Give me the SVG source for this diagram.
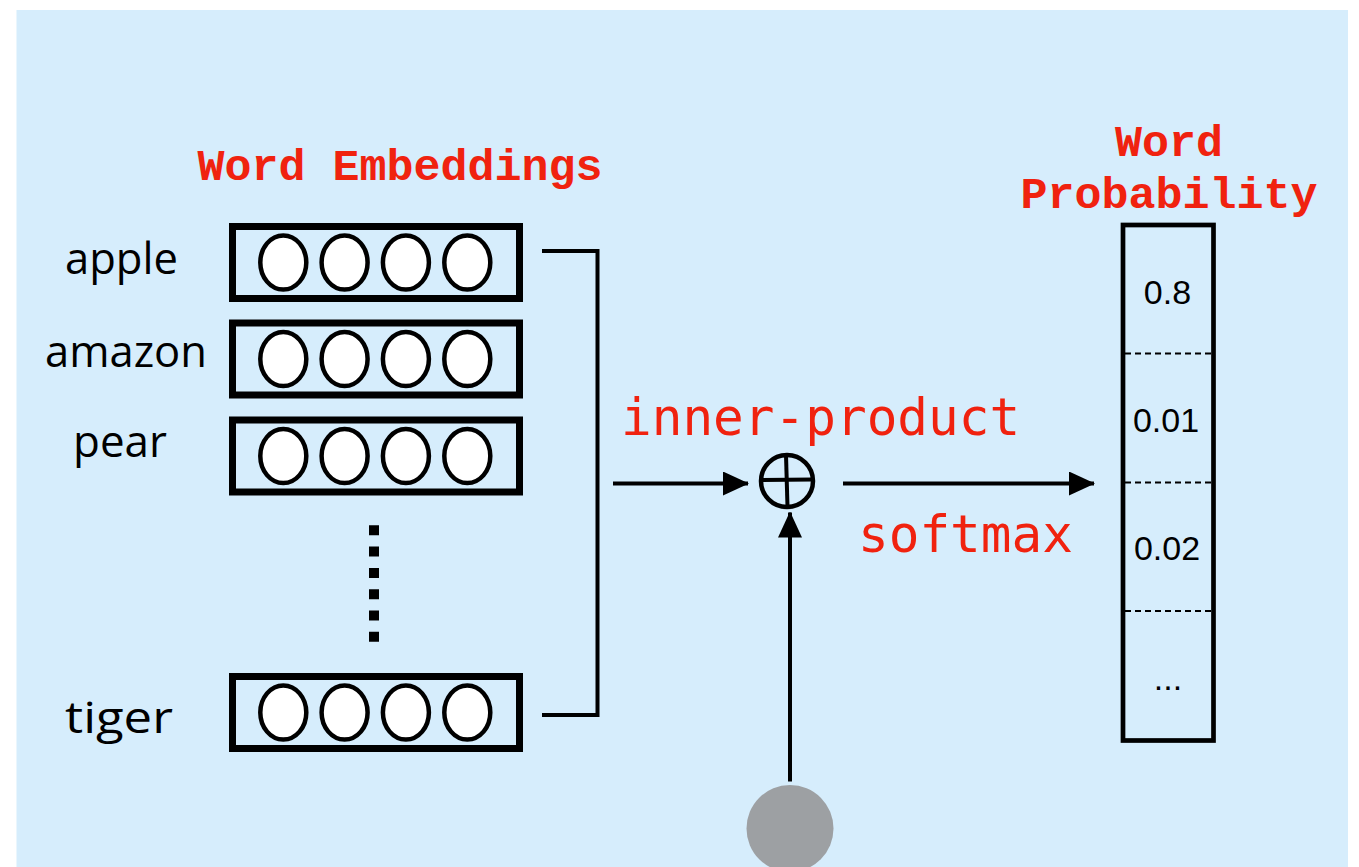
<svg xmlns="http://www.w3.org/2000/svg" width="1359" height="867" viewBox="0 0 1359 867">
<defs>
<style>
.bg{fill:#d6edfc}
.vec{fill:none;stroke:#000;stroke-width:7}
.cell{fill:#fff;stroke:#000;stroke-width:4.5}
.word{font-family:"Open Sans","DejaVu Sans",sans-serif;font-size:44px;fill:#000}
.title{font-family:"Liberation Mono","Courier New",monospace;font-weight:bold;font-size:45px;fill:#f0220f;text-anchor:middle}
.op{font-family:"DejaVu Sans Mono",monospace;font-size:51px;fill:#f0220f}
.prob{font-family:"Liberation Sans",Arial,sans-serif;font-size:34px;fill:#000;text-anchor:middle}
.conn{fill:none;stroke:#000;stroke-width:4}
.dash{stroke:#000;stroke-width:2;stroke-dasharray:6 4}
</style>
<marker id="ah" markerWidth="26" markerHeight="24" refX="25" refY="12" orient="auto" markerUnits="userSpaceOnUse">
<path d="M0,0 L26,12 L0,24 Z" fill="#000"/>
</marker>
<g id="cells">
<ellipse class="cell" cx="0" cy="0" rx="23" ry="27"/>
<ellipse class="cell" cx="61.3" cy="0" rx="23" ry="27"/>
<ellipse class="cell" cx="122.6" cy="0" rx="23" ry="27"/>
<ellipse class="cell" cx="184" cy="0" rx="23" ry="27"/>
</g>
</defs>
<rect class="bg" x="16.5" y="10" width="1331.5" height="857"/>

<text class="title" x="400" y="180">Word Embeddings</text>
<text class="title" x="1169" y="156">Word</text>
<text class="title" x="1169" y="208">Probability</text>

<g id="apple">
<text class="word" x="65" y="274" textLength="113" lengthAdjust="spacingAndGlyphs">apple</text>
<rect class="vec" x="232.5" y="226.5" width="287" height="72"/>
<use href="#cells" x="283.3" y="262.5"/>
</g>
<g id="amazon">
<text class="word" x="45" y="367" textLength="162" lengthAdjust="spacingAndGlyphs">amazon</text>
<rect class="vec" x="232.5" y="323" width="287" height="72"/>
<use href="#cells" x="283.3" y="359"/>
</g>
<g id="pear">
<text class="word" x="73" y="457" textLength="94" lengthAdjust="spacingAndGlyphs">pear</text>
<rect class="vec" x="232.5" y="420" width="287" height="72"/>
<use href="#cells" x="283.3" y="456"/>
</g>
<g id="ellipsis">
<line x1="374" y1="525.3" x2="374" y2="642" stroke="#000" stroke-width="10" stroke-dasharray="10 11.3"/>
</g>
<g id="tiger">
<text class="word" x="65" y="733" textLength="108" lengthAdjust="spacingAndGlyphs">tiger</text>
<rect class="vec" x="232.5" y="676.5" width="287" height="72"/>
<use href="#cells" x="283.3" y="712.5"/>
</g>

<g id="plus">
<circle cx="787" cy="481" r="26" fill="none" stroke="#000" stroke-width="4.5"/>
<line x1="761" y1="480" x2="813" y2="479.5" stroke="#000" stroke-width="4"/>
<line x1="786" y1="455" x2="787.5" y2="507" stroke="#000" stroke-width="4"/>
</g>

<g id="context">
<circle cx="790" cy="828.5" r="43.5" fill="#9da0a3"/>
</g>

<g id="probability">
<rect x="1123" y="225" width="90.5" height="515.5" fill="none" stroke="#000" stroke-width="4.7"/>
<line class="dash" x1="1125" y1="353.5" x2="1211" y2="353.5"/>
<line class="dash" x1="1125" y1="482.5" x2="1211" y2="482.5"/>
<line class="dash" x1="1125" y1="611" x2="1211" y2="611"/>
<text class="prob" x="1167.5" y="303.5">0.8</text>
<text class="prob" x="1166" y="431.5">0.01</text>
<text class="prob" x="1167" y="560">0.02</text>
<text class="prob" x="1168" y="690">...</text>
</g>

<text class="op" x="621" y="435">inner-product</text>
<text class="op" x="858" y="552">softmax</text>

<g id="connectors">
<polyline class="conn" points="542,251 597.5,251 597.5,715 542,715"/>
<line class="conn" x1="613" y1="483.5" x2="748" y2="483.5" marker-end="url(#ah)"/>
<line class="conn" x1="843" y1="483.5" x2="1094" y2="483.5" marker-end="url(#ah)"/>
<line class="conn" x1="790" y1="781.5" x2="790" y2="512.5" marker-end="url(#ah)"/>
</g>
</svg>
